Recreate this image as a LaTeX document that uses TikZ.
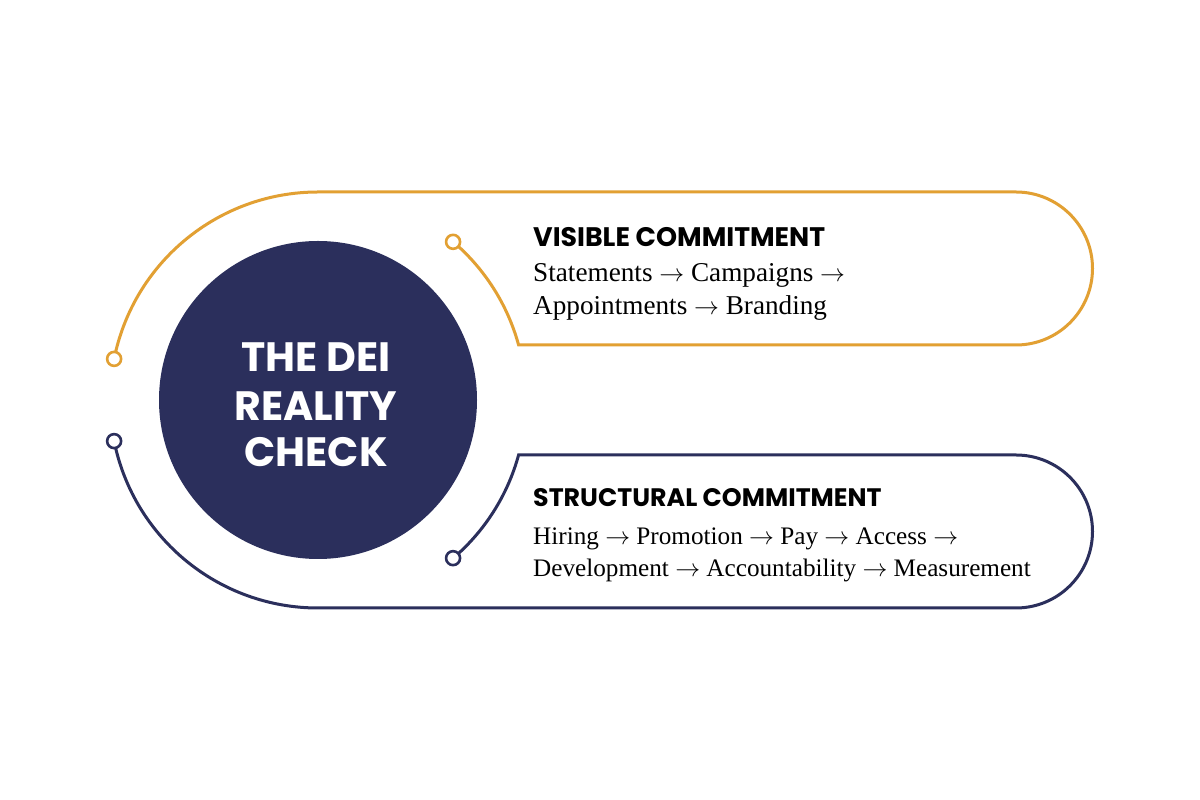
\documentclass[tikz,border=0pt]{standalone}
\usepackage{fontspec}
\setmainfont{Liberation Serif}
\newfontfamily\pop{Poppins}
\definecolor{dorange}{HTML}{E2A033}
\definecolor{dnavy}{HTML}{2B2F5C}
\newcommand{\ar}{$\rightarrow$}
\begin{document}
\begin{tikzpicture}[x=1pt,y=1pt,
  track/.style={line width=3pt},
  dot/.style={circle,draw=#1,line width=2.6pt,fill=white,minimum size=14pt,inner sep=0pt},
  head/.style={anchor=base west,inner sep=0pt,font={\pop\bfseries\fontsize{#1}{28}\selectfont},text=black},
  body/.style={anchor=base west,inner sep=0pt,font={\fontsize{#1}{30}\selectfont},text=black},
  big/.style={anchor=base,inner sep=0pt,font={\pop\bfseries\fontsize{41}{48}\selectfont},text=white}]
\useasboundingbox (0,0) rectangle (1200,800);
\fill[white] (0,0) rectangle (1200,800);
\coordinate (C) at (318,400);
% end points of the tracks
\path (C) ++(168.6:208) coordinate (oL);
\path (C) ++(49.5:208) coordinate (oR);
\path (C) ++(191.4:208) coordinate (nL);
\path (C) ++(-49.5:208) coordinate (nR);
% orange track
\draw[track,dorange] (oL) arc[start angle=168.6,end angle=90,radius=208]
  -- (1016,608) arc[start angle=90,end angle=-90,radius=76.5]
  -- (518.6,455) arc[start angle=15.3,end angle=49.5,radius=208];
% navy track
\draw[track,dnavy] (nL) arc[start angle=191.4,end angle=270,radius=208]
  -- (1016,192) arc[start angle=-90,end angle=90,radius=76.5]
  -- (518.6,345) arc[start angle=-15.3,end angle=-49.5,radius=208];
% dots
\node[dot=dorange] (doL) at (oL) {};
\node[dot=dorange] (doR) at (oR) {};
\node[dot=dnavy] (dnL) at (nL) {};
\node[dot=dnavy] (dnR) at (nR) {};
% central circle
\node[circle,fill=dnavy,minimum size=318pt,inner sep=0pt] (hub) at (C) {};
\node[big] (t1) at (316,428) {THE DEI};
\node[big] (t2) at (316,379) {REALITY};
\node[big] (t3) at (316,333) {CHECK};
% visible commitment
\node[head=26.8] (vh) at (533,553) {VISIBLE COMMITMENT};
\node[body=27.2] (v1) at (533,518) {Statements \ar{} Campaigns \ar};
\node[body=27.2] (v2) at (533,485) {Appointments \ar{} Branding};
% structural commitment
\node[head=25.3] (sh) at (533,293) {STRUCTURAL COMMITMENT};
\node[body=25.2] (s1) at (533,255) {Hiring \ar{} Promotion \ar{} Pay \ar{} Access \ar};
\node[body=25.2] (s2) at (533,223) {Development \ar{} Accountability \ar{} Measurement};
\end{tikzpicture}
\end{document}
